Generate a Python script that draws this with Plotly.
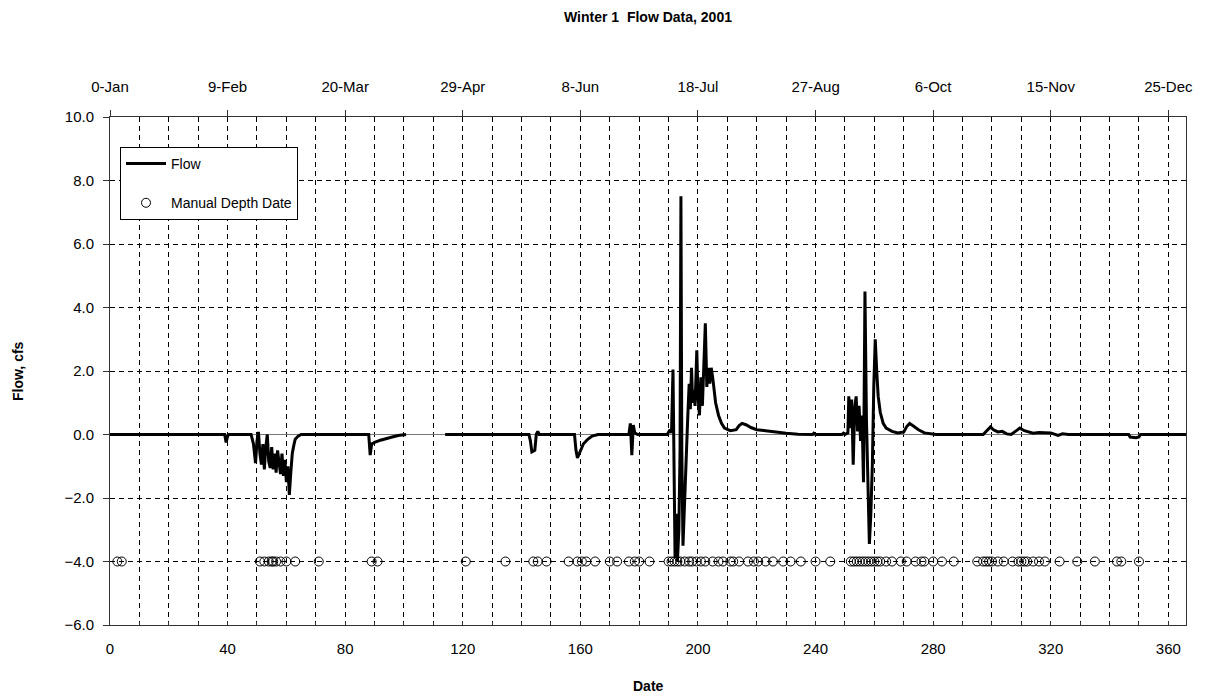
import plotly.graph_objects as go

# ---- data ----
flow_day = [
    0, 39, 39.5, 40, 40.5, 48, 48.8, 49.5, 50, 50.5, 51, 51.5, 52, 52.5, 53, 53.5, 54, 54.5,
    55, 55.5, 56, 56.5, 57, 57.5, 58, 58.5, 59, 59.5, 60, 60.5, 61, 61.5, 62, 62.5, 63, 64, 65,
    88, 88.5, 89, 90, 92, 94, 96, 98, 100.7,
    None,
    114, 142.5, 143, 143.5, 144.5, 145, 145.5, 146, 158, 158.5, 159, 160, 161, 162.5, 164, 166,
    176.5, 177, 177.5, 178, 178.5, 179.5, 189.5, 190.5, 191, 191.5, 191.8, 192.2, 192.6, 193,
    193.5, 193.9, 194.2, 194.5, 194.9, 195.3, 195.7, 196.1, 196.5, 197, 197.4, 197.8, 198.2,
    198.6, 199, 199.6, 200, 200.5, 201, 201.5, 202, 202.5, 203, 203.5, 204, 204.5, 205, 205.5,
    206, 207, 208, 209, 211, 213, 214, 215, 216.5, 218, 220, 223, 226, 230, 234, 236, 239,
    239.4, 240, 249, 249.5, 250, 251, 251.3, 251.8, 252.3, 252.8, 253.3, 253.8, 254.3, 254.8,
    255.3, 255.8, 256.3, 256.8, 257.3, 257.8, 258.3, 258.8, 259.3, 259.8, 260.3, 260.8, 261.3,
    262, 263, 264, 266, 268, 270, 271, 272, 273.5, 275, 277, 279, 281, 297, 298.5, 299.5,
    300.5, 302, 303.5, 305, 306.5, 308, 309.5, 311, 312.5, 314, 316, 318, 320, 322.5, 324, 326,
    346.5, 347, 349, 350, 350.5, 366,
]
flow_cfs = [
    0, 0, -0.25, -0.05, 0, 0, -0.3, -0.9, -0.2, 0.08, -0.6, -0.95, -0.3, -1.1, -0.4, 0.0, -0.85, -1.05,
    -0.4, -1.1, -0.6, -1.2, -0.5, -0.95, -1.25, -0.6, -1.3, -0.8, -1.5, -1.0, -1.9, -1.2, -0.6, -0.35, -0.15, -0.05, 0,
    0, -0.65, -0.3, -0.25, -0.18, -0.12, -0.08, -0.03, 0,
    None,
    0, 0, -0.2, -0.55, -0.5, 0.0, 0.1, 0, 0, -0.5, -0.74, -0.5, -0.3, -0.15, -0.05, 0,
    0, 0.35, -0.65, 0.3, 0.05, 0.0, 0, 0.15, 0.05, 2.05, -0.3, -3.9, -2.5, -4.0,
    -3.0, -0.5, 7.5, -0.5, -3.5, -2.5, -1.0, -0.3, 0.5, 1.6, 0.8, 2.1, 1.0,
    1.4, 0.9, 2.65, 1.2, 0.6, 1.8, 0.9, 2.2, 3.5, 1.5, 2.1, 1.6, 2.1, 1.8, 1.4,
    1.0, 0.6, 0.35, 0.2, 0.12, 0.15, 0.28, 0.35, 0.3, 0.22, 0.15, 0.12, 0.08, 0.04, 0.01, 0, 0,
    0.04, 0, 0, 0.04, 0, 0.05, 1.2, 0.2, 1.1, -0.95, 0.8, 1.2, 0.1, 0.9,
    -0.2, 0.6, -1.5, 4.5, 0.5, -2.0, -3.45, -2.5, -1.0, 1.5, 3.0, 2.0, 1.2,
    0.7, 0.35, 0.2, 0.1, 0.05, 0.08, 0.25, 0.35, 0.25, 0.15, 0.05, 0.02, 0, 0, 0.15, 0.24,
    0.15, 0.08, 0.1, 0.02, 0.0, 0.1, 0.2, 0.12, 0.08, 0.04, 0.06, 0.05, 0.05, -0.03, 0.02, 0,
    0, -0.08, -0.1, -0.08, 0, 0,
]

manual_day = [
    2.5, 4, 51, 52.5, 54, 55, 55.5, 56.5, 58, 60, 63, 71, 89, 91, 121, 134.5, 144, 145.5, 148.5,
    156, 159, 160.5, 162, 165, 170, 172.5, 176.5, 178.5, 180, 183.5, 190, 191, 192, 193, 194,
    195.5, 197, 198, 199.5, 201, 202.5, 205, 207, 208.5, 211, 212, 214, 217, 219, 220.5, 223,
    225.5, 229, 231.5, 235, 240, 245, 252, 253, 254, 255, 256, 257, 258, 259, 260, 261, 262,
    264, 266, 269, 271, 274, 276, 277, 280, 283, 287, 295, 297, 298, 299, 300, 302, 304, 307,
    309, 310, 311, 312, 314, 316, 318, 323, 329, 335, 342.5, 344, 350,
]
manual_depth = [-4.0] * len(manual_day)

top_tick_days = [0, 40, 80, 120, 160, 200, 240, 280, 320, 360]
top_tick_labels = ["0-Jan", "9-Feb", "20-Mar", "29-Apr", "8-Jun", "18-Jul",
                   "27-Aug", "6-Oct", "15-Nov", "25-Dec"]

FONT = "Liberation Sans, Arial, sans-serif"
DASH = "5px,4px"
W, H = 1207, 689  # page adds an 8px body margin

fig = go.Figure()
fig.add_trace(go.Scatter(
    x=flow_day, y=flow_cfs, mode="lines", name="Flow",
    line=dict(color="black", width=3), connectgaps=False, legendgroup="a",
))
fig.add_trace(go.Scatter(
    x=manual_day, y=manual_depth, mode="markers", name="Manual Depth Date",
    marker=dict(symbol="circle-open", size=9, color="black", line=dict(width=1)),
    legendgroup="b",
))
# invisible helper so the top (date) axis is drawn
fig.add_trace(go.Scatter(
    x=manual_day, y=manual_depth, xaxis="x2", mode="markers",
    marker=dict(opacity=0), showlegend=False, hoverinfo="skip",
))

fig.update_layout(
    width=W, height=H,
    margin=dict(l=102, r=29, t=109, b=72),
    paper_bgcolor="white", plot_bgcolor="white",
    font=dict(family=FONT, size=15, color="black"),
    title=dict(text="<b>Winter 1  Flow Data, 2001</b>", font=dict(size=14),
               x=(102 + (W - 29)) / 2 / W, xanchor="center",
               yref="container", y=1 - 9 / H, yanchor="middle"),
    showlegend=True,
    legend=dict(x=0.0093, y=0.941, xanchor="left", yanchor="top",
                bgcolor="white", bordercolor="black", borderwidth=1,
                font=dict(size=14), itemwidth=40, tracegroupgap=18,
                traceorder="grouped", entrywidth=190, entrywidthmode="pixels"),
    xaxis=dict(
        range=[0, 366], tickmode="array", tickvals=top_tick_days,
        ticks="inside", ticklen=4, tickcolor="#333", ticklabelstandoff=10,
        showline=True, linecolor="#333", linewidth=1,
        showgrid=True, gridcolor="black", gridwidth=1, griddash=DASH,
        minor=dict(dtick=10, showgrid=True, gridcolor="black", gridwidth=1,
                   griddash=DASH, ticks="inside", ticklen=3, tickcolor="#333"),
        zeroline=False, tickfont=dict(size=15),
    ),
    xaxis2=dict(
        range=[0, 366], overlaying="x", side="top", tickmode="array",
        tickvals=top_tick_days, ticktext=top_tick_labels,
        ticks="outside", ticklen=6, tickcolor="#333", ticklabelstandoff=12,
        showline=True, linecolor="#333", linewidth=1, showgrid=False,
        zeroline=False, tickfont=dict(size=15),
    ),
    yaxis=dict(
        range=[-6, 10], dtick=2, tickformat=".1f",
        ticks="outside", ticklen=6, tickcolor="#333", ticklabelstandoff=6,
        showline=True, linecolor="#333", linewidth=1, mirror=True,
        showgrid=True, gridcolor="black", gridwidth=1, griddash=DASH,
        zeroline=True, zerolinecolor="#777", zerolinewidth=1,
        tickfont=dict(size=15),
    ),
    annotations=[
        dict(text="<b>Flow, cfs</b>", xref="paper", yref="paper", x=0, y=0.5,
             xshift=-92, textangle=-90, showarrow=False, font=dict(size=14),
             xanchor="center", yanchor="middle"),
        dict(text="<b>Date</b>", xref="paper", yref="paper", x=0.5, y=0,
             yshift=-61, showarrow=False, font=dict(size=14),
             xanchor="center", yanchor="middle"),
    ],
)

fig.write_html("out.html")
